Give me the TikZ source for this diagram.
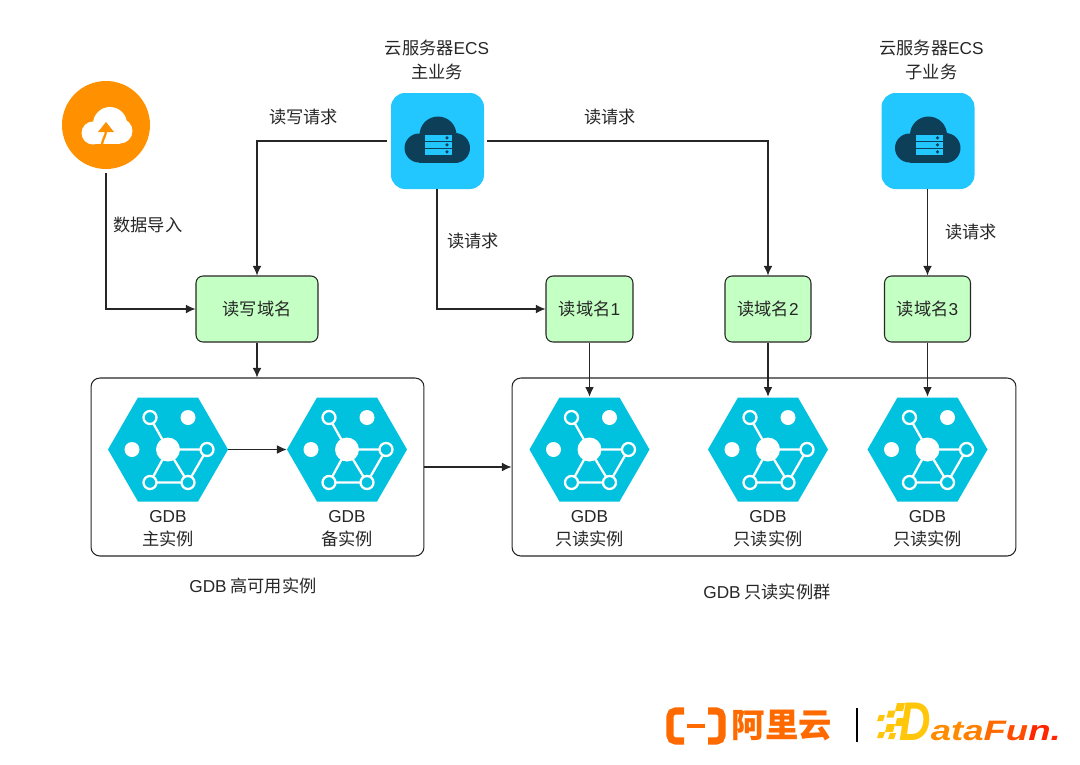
\documentclass[tikz,border=0pt]{standalone}
\usepackage{fontspec}
\setmainfont{Liberation Sans}
\newfontfamily\cjk{Noto Sans CJK SC}
\usetikzlibrary{arrows.meta}
\usetikzlibrary{positioning}
\definecolor{hexblue}{HTML}{00C1DE}
\definecolor{ecsblue}{HTML}{22C7FF}
\definecolor{ecsdark}{HTML}{0D3F59}
\definecolor{uporange}{HTML}{FF9100}
\definecolor{domaingreen}{HTML}{C4FFC4}
\definecolor{aliorange}{HTML}{FF6A00}
\definecolor{funyellow}{HTML}{FFC60A}
\tikzset{
  lbl/.style={font=\fontsize{9.8}{13.4}\selectfont\cjk,align=center,text=black!85},
  domainbox/.style={lbl,draw=black!85,fill=domaingreen,rounded corners=4pt,line width=.6pt,minimum height=1.32cm},
  groupbox/.style={draw=black!85,rounded corners=5pt,line width=.6pt,minimum height=3.56cm},
  flow/.style={line width=.6pt,black!85,-{Latex[length=5.5pt,width=5pt]}},
  slot/.style={minimum width=2cm,minimum height=1.9cm,inner sep=0pt},
  hexslot/.style={minimum width=2.4cm,minimum height=2.1cm,inner sep=0pt},
  gdbicon/.pic={
    \fill[hexblue] (-60,0)--(-30,-52)--(30,-52)--(60,0)--(30,52)--(-30,52)--cycle;
    \draw[white,line width=1.3pt] (-18,-32)--(0,0)--(39,0)--(20,33)--(-18,33)--(0,0)--(20,33);
    \fill[white] (0,0) circle[radius=12] (20,-32) circle[radius=7.5] (-36,0) circle[radius=7.5];
    \foreach \x/\y in {-18/-32,39/0,-18/33,20/33}
      \draw[white,fill=hexblue,line width=1.3pt] (\x,\y) circle[radius=6.5];
  },
  ecsicon/.pic={
    \fill[ecsblue,rounded corners=8pt] (-46,-48) rectangle (47,48);
    \fill[ecsdark] (-18,7) circle[radius=14.5];
    \fill[ecsdark] (18,7) circle[radius=15];
    \fill[ecsdark] (1,-6) circle[radius=18.5];
    \fill[ecsdark] (-18,-7) rectangle (18,21.5);
    \foreach \y in {-6,1,8}{
      \fill[ecsblue] (-12,\y) rectangle (15,\y+5.6);
      \fill[ecsdark] (10,\y+2.8) circle[radius=1.8];
    }
  }
}
\begin{document}
\begin{tikzpicture}[x=.02cm,y=-.02cm]
\useasboundingbox (0,0) rectangle (1080,765);
% upload icon
\node[slot,minimum height=1.92cm,minimum width=1.96cm] (upload) at (106,125){};
\fill[uporange] (upload) circle[radius=44];
\fill[white] (93,133) circle[radius=11.5];
\fill[white] (120,131) circle[radius=12.5];
\fill[white] (110,124) circle[radius=17];
\fill[white] (93,130) rectangle (120,144);
\fill[uporange] (106,122)--(98,132)--(114,132)--cycle;
\draw[uporange,line width=1.3pt] (102,144) .. controls (103,138) and (106,136) .. (106,130);
% ecs
\node[slot] (ecsmain) at (437,141){};
\node[slot] (ecssub) at (927.5,141){};
\pic at (437,141){ecsicon};
\pic at (927.5,141){ecsicon};
\node[lbl] (ecsmaintxt) at (437,60){云服务器{\fontspec{Liberation Sans}ECS}\\主业务};
\node[lbl] (ecssubtxt) at (931.5,60){云服务器{\fontspec{Liberation Sans}ECS}\\子业务};
% domains
\node[domainbox,minimum width=2.44cm] (rwname) at (257,309){读写域名};
\node[domainbox,minimum width=1.74cm] (rone) at (589.5,309){读域名{\fontspec{Liberation Sans}1}};
\node[domainbox,minimum width=1.72cm] (rtwo) at (768,309){读域名{\fontspec{Liberation Sans}2}};
\node[domainbox,minimum width=1.72cm] (rthree) at (927.5,309){读域名{\fontspec{Liberation Sans}3}};
% groups
\node[groupbox,minimum width=6.66cm] (habox) at (257.5,467){};
\node[groupbox,minimum width=10.08cm] (robox) at (764,467){};
\foreach \n/\x/\t in {gmain/168/主实例,gback/347/备实例,gone/589.5/只读实例,gtwo/768/只读实例,gthree/927.5/只读实例}{
  \node[hexslot] (\n) at (\x,449.5){};
  \pic at (\x,449.5){gdbicon};
  \node[lbl] (\n txt) at (\x,528.5){{\fontspec{Liberation Sans}GDB}\\\t};
}
\node[lbl] (hatxt) at (253,586){{\fontspec{Liberation Sans}GDB} 高可用实例};
\node[lbl] (rotxt) at (767,592){{\fontspec{Liberation Sans}GDB} 只读实例群};
% arrows
\draw[flow] (ecsmain.west) -| (rwname.north);
\draw[flow] (ecsmain.east) -| (rtwo.north);
\draw[flow] (ecsmain.south) |- (rone.west);
\draw[flow] (ecssub.south) -- (rthree.north);
\draw[flow] (upload.south) |- (rwname.west);
\draw[flow] (rwname.south) -- (rwname.south |- habox.north);
\draw[flow] (rone.south) -- (gone.north);
\draw[flow] (rtwo.south) -- (gtwo.north);
\draw[flow] (rthree.south) -- (gthree.north);
\draw[flow] (gmain.east) -- (gback.west);
\draw[flow] (habox.east) -- (robox.west);
\node[lbl] (rwreq) at (303.5,117){读写请求};
\node[lbl] (rreqa) at (610,117){读请求};
\node[lbl] (import) at (148,225){数据导入};
\node[lbl] (rreqb) at (473,241){读请求};
\node[lbl] (rreqc) at (971,232){读请求};
% logos
\draw[aliorange,line width=4pt,rounded corners=3pt] (684,711)--(670,711)--(670,741)--(684,741);
\draw[aliorange,line width=4pt,rounded corners=3pt] (708,711)--(722,711)--(722,741)--(708,741);
\fill[aliorange] (687,724) rectangle (705,727.5);
\node[font=\fontsize{19}{20}\selectfont\cjk\bfseries,text=aliorange,inner sep=0pt] (aliname) at (782,726){阿里云};
\node[fill=black,inner sep=0pt,minimum width=.05cm,minimum height=.68cm] (logobar) at (857,725){};
\foreach \x/\y/\s in {880/718/3,890/714/3.5,899/707/4,899/722/4,889/728/4,880/735/3,891/736/3}
  \fill[funyellow] (\x-\s,\y+\s)--(\x-\s+2,\y-\s)--(\x+\s+2,\y-\s)--(\x+\s,\y+\s)--cycle;
\node[anchor=base west,inner sep=0pt,font=\bfseries\itshape\fontsize{31}{31}\selectfont] (funname) at (899,740){\textcolor{funyellow}{\scalebox{.8}[1]{D}}\scalebox{1.3}[1]{\fontsize{16}{16}\selectfont\textcolor{orange!90!yellow}{at}\textcolor{orange}{a}\textcolor{aliorange}{F}\textcolor{orange!60!red}{u}\textcolor{orange!30!red}{n.}}};
\end{tikzpicture}
\end{document}
